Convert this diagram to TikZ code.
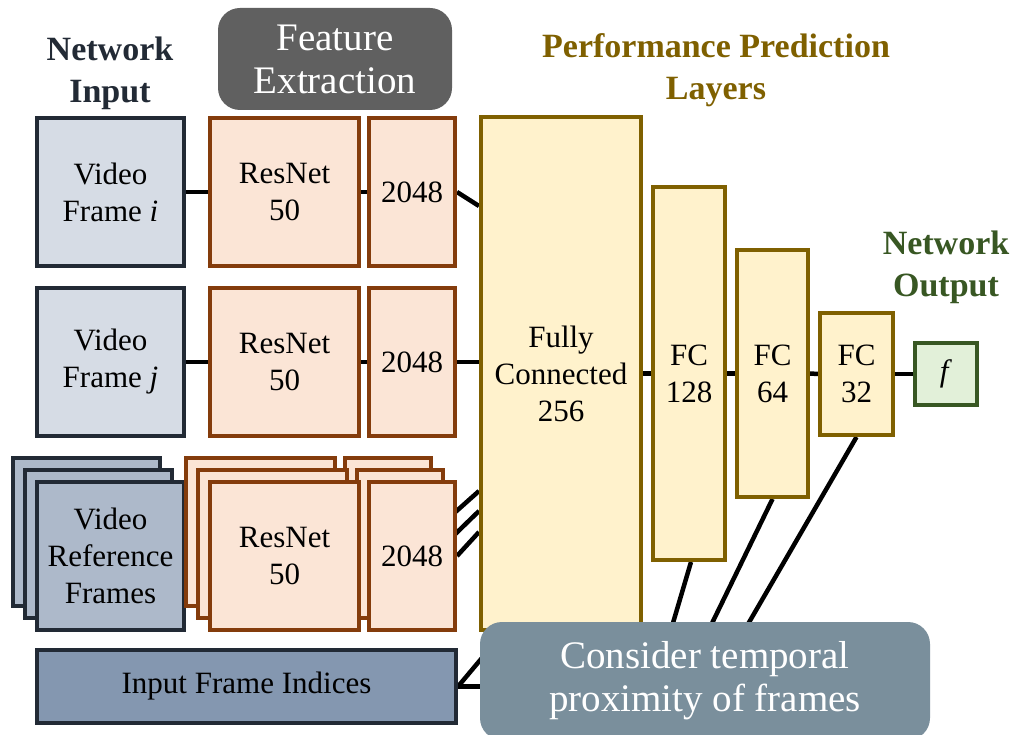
\documentclass[tikz,border=0pt]{standalone}
\usepackage{fontspec}
\setmainfont{Liberation Serif}
\usetikzlibrary{backgrounds}

\definecolor{inkblue}{HTML}{222A35}
\definecolor{framefill}{HTML}{D6DCE5}
\definecolor{reffill}{HTML}{ADB9CA}
\definecolor{idxfill}{HTML}{8497B0}
\definecolor{resdraw}{HTML}{843C0C}
\definecolor{resfill}{HTML}{FBE5D6}
\definecolor{fcdraw}{HTML}{7F6000}
\definecolor{fcfill}{HTML}{FFF2CC}
\definecolor{outdraw}{HTML}{385723}
\definecolor{outfill}{HTML}{E2F0D9}
\definecolor{extfill}{HTML}{606060}
\definecolor{notefill}{HTML}{7A8F9C}

\begin{document}
\begin{tikzpicture}[x=1pt,y=-1pt,
		every node/.style={inner sep=0pt, align=center, font=\fontsize{31}{37}\selectfont},
		inbox/.style={draw=inkblue, line width=4pt, fill=#1},
		resbox/.style={draw=resdraw, line width=4pt, fill=resfill},
		fcbox/.style={draw=fcdraw, line width=4pt, fill=fcfill},
		outbox/.style={draw=outdraw, line width=4pt, fill=outfill},
		greybox/.style={fill=#1, rounded corners=22pt, text=white, font=\fontsize{39}{43}\selectfont},
		heading/.style={text=#1, font=\bfseries\fontsize{34}{42}\selectfont},
		link/.style={draw=black, line width=4.5pt}]
	\useasboundingbox (0,0) rectangle (1017,735);

	% headings
	\node[heading=inkblue] (titin) at (110,73) {Network\\Input};
	\node[greybox=extfill, minimum width=234pt, minimum height=102pt] (titext) at (335,59) {Feature\\Extraction};
	\node[heading=fcdraw] (titpred) at (716,70) {Performance Prediction\\Layers};
	\node[heading=outdraw] (titout) at (946,267) {Network\\Output};

	% input frames
	\node[inbox=framefill, minimum width=147pt, minimum height=148pt] (vi) at (110.5,192) {Video\\Frame \textit{i}};
	\node[inbox=framefill, minimum width=147pt, minimum height=148pt] (vj) at (110.5,362) {Video\\Frame \textit{j}};
	\node[inbox=reffill, minimum width=147pt, minimum height=148pt] (vrb) at (86.5,532) {};
	\node[inbox=reffill, minimum width=147pt, minimum height=148pt] (vrm) at (98.5,544) {};
	\node[inbox=reffill, minimum width=147pt, minimum height=148pt] (vrf) at (110.5,556) {Video\\Reference\\Frames};
	\node[inbox=idxfill, minimum width=419pt, minimum height=73pt] (idx) at (246.5,686.5) {Input Frame Indices};

	% feature extraction
	\node[resbox, minimum width=149pt, minimum height=148pt] (rn1) at (284.5,192) {ResNet\\50};
	\node[resbox, minimum width=86pt, minimum height=148pt] (ft1) at (412,192) {2048};
	\node[resbox, minimum width=149pt, minimum height=148pt] (rn2) at (284.5,362) {ResNet\\50};
	\node[resbox, minimum width=86pt, minimum height=148pt] (ft2) at (412,362) {2048};
	\node[resbox, minimum width=149pt, minimum height=148pt] (rnb) at (260.5,532) {};
	\node[resbox, minimum width=86pt, minimum height=148pt] (ftb) at (388,532) {};
	\node[resbox, minimum width=149pt, minimum height=148pt] (rnm) at (272.5,544) {};
	\node[resbox, minimum width=86pt, minimum height=148pt] (ftm) at (400,544) {};
	\node[resbox, minimum width=149pt, minimum height=148pt] (rnf) at (284.5,556) {ResNet\\50};
	\node[resbox, minimum width=86pt, minimum height=148pt] (ftf) at (412,556) {2048};

	% prediction layers
	\node[fcbox, minimum width=160pt, minimum height=513pt] (fc256) at (561,373.5) {Fully\\Connected\\256};
	\node[fcbox, minimum width=72pt, minimum height=373pt] (fc128) at (689,373.5) {FC\\128};
	\node[fcbox, minimum width=71pt, minimum height=247pt] (fc64) at (772.5,373.5) {FC\\64};
	\node[fcbox, minimum width=73pt, minimum height=122pt] (fc32) at (856.5,374) {FC\\32};
	\node[outbox, minimum width=62pt, minimum height=62pt] (out) at (946,374) {\textit{f}};

	\node[greybox=notefill, minimum width=450pt, minimum height=118pt] (note) at (705,681) {Consider temporal\\proximity of frames};

	\coordinate (nt0) at (500,686.5);
	\coordinate (nt1) at (497,640);
	\coordinate (nt2) at (665,650);
	\coordinate (nt3) at (699,650);
	\coordinate (nt4) at (733,650);

	\begin{pgfonlayer}{background}
		\fill[white] (0,0) rectangle (1017,735);
		\draw[link] (vi.east) -- (rn1.west);
		\draw[link] (rn1.east) -- (ft1.west);
		\draw[link] (ft1.east) -- (fc256.west |- 0,206);
		\draw[link] (vj.east) -- (rn2.west);
		\draw[link] (rn2.east) -- (ft2.west);
		\draw[link] (ft2.east) -- (fc256.west |- 0,362);
		\draw[link] (vrm.east) -- (rnm.west);
		\draw[link] (vrf.east) -- (rnf.west);
		\draw[link] (rnf.east) -- (ftf.west);
		\draw[link] (ftb.east) -- (fc256.west |- 0,491);
		\draw[link] (ftm.east) -- (fc256.west |- 0,511);
		\draw[link] (ftf.east) -- (fc256.west |- 0,532);
		\draw[link] (fc256.east) -- (fc128.west);
		\draw[link] (fc128.east) -- (fc64.west);
		\draw[link] (fc64.east) -- (fc32.west);
		\draw[link] (fc32.east) -- (out.west);
		\draw[link] (idx.east) -- (nt0);
		\draw[link] (idx.east) -- (nt1);
		\draw[link] ([xshift=2pt]fc128.south) -- (nt2);
		\draw[link] (fc64.south) -- (nt3);
		\draw[link] (fc32.south) -- (nt4);
	\end{pgfonlayer}
\end{tikzpicture}
\end{document}
